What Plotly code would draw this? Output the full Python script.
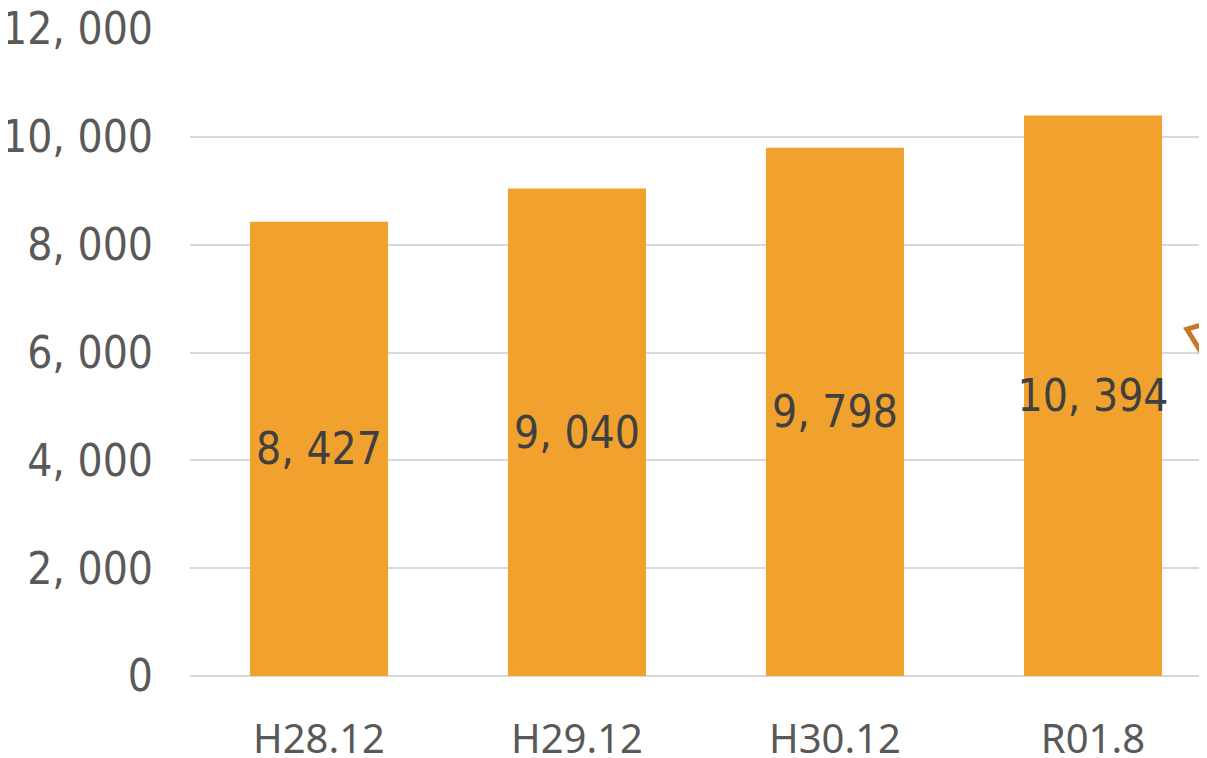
import plotly.graph_objects as go

categories = ["H28.12", "H29.12", "H30.12", "R01.8"]
values = [8427, 9040, 9798, 10394]
y_ticks = [0, 2000, 4000, 6000, 8000, 10000, 12000]

def fmt(v):
    return f"{v:,}".replace(",", ", ")

narrow = "Liberation Sans Narrow, DejaVu Sans Condensed, Arial Narrow, sans-serif"

fig = go.Figure()
fig.add_trace(go.Bar(
    x=list(range(len(categories))),
    y=values,
    marker=dict(color="#F1A22E", line=dict(width=0)),
    text=[fmt(v) for v in values],
    textposition="inside",
    insidetextanchor="middle",
    constraintext="none",
    textangle=0,
    textfont=dict(family=narrow, size=44, color="#404040"),
    hoverinfo="skip",
))

fig.update_layout(
    width=1191, height=750,
    margin=dict(l=182, r=0, t=21, b=82),
    paper_bgcolor="white", plot_bgcolor="white",
    bargap=0.465,
    showlegend=False,
    xaxis=dict(
        range=[-0.5, 3.411],
        tickmode="array",
        tickvals=list(range(len(categories))),
        ticktext=categories,
        tickfont=dict(family="Noto Sans, sans-serif", size=40, color="#595959"),
        showgrid=False, zeroline=False, showline=False, ticks="",
        ticklabelstandoff=36,
        ticklabeloverflow="allow",
        automargin=False,
    ),
    yaxis=dict(
        range=[0, 12000],
        tickmode="array",
        tickvals=y_ticks,
        ticktext=[fmt(v) for v in y_ticks],
        tickfont=dict(family=narrow, size=44, color="#595959"),
        showgrid=True, gridcolor="#D9D9D9", gridwidth=2,
        zeroline=True, zerolinecolor="#D9D9D9", zerolinewidth=2,
        showline=False, ticks="",
        ticklabelstandoff=36,
        ticklabeloverflow="allow",
        automargin=False,
    ),
    shapes=[dict(
        type="path", xref="paper", yref="paper",
        path="M 1.03,0.555 L 0.988,0.536 L 1.03,0.43",
        line=dict(color="#C47A2C", width=5),
        fillcolor="rgba(0,0,0,0)",
        layer="above",
    )],
)

fig.write_html("out.html")
